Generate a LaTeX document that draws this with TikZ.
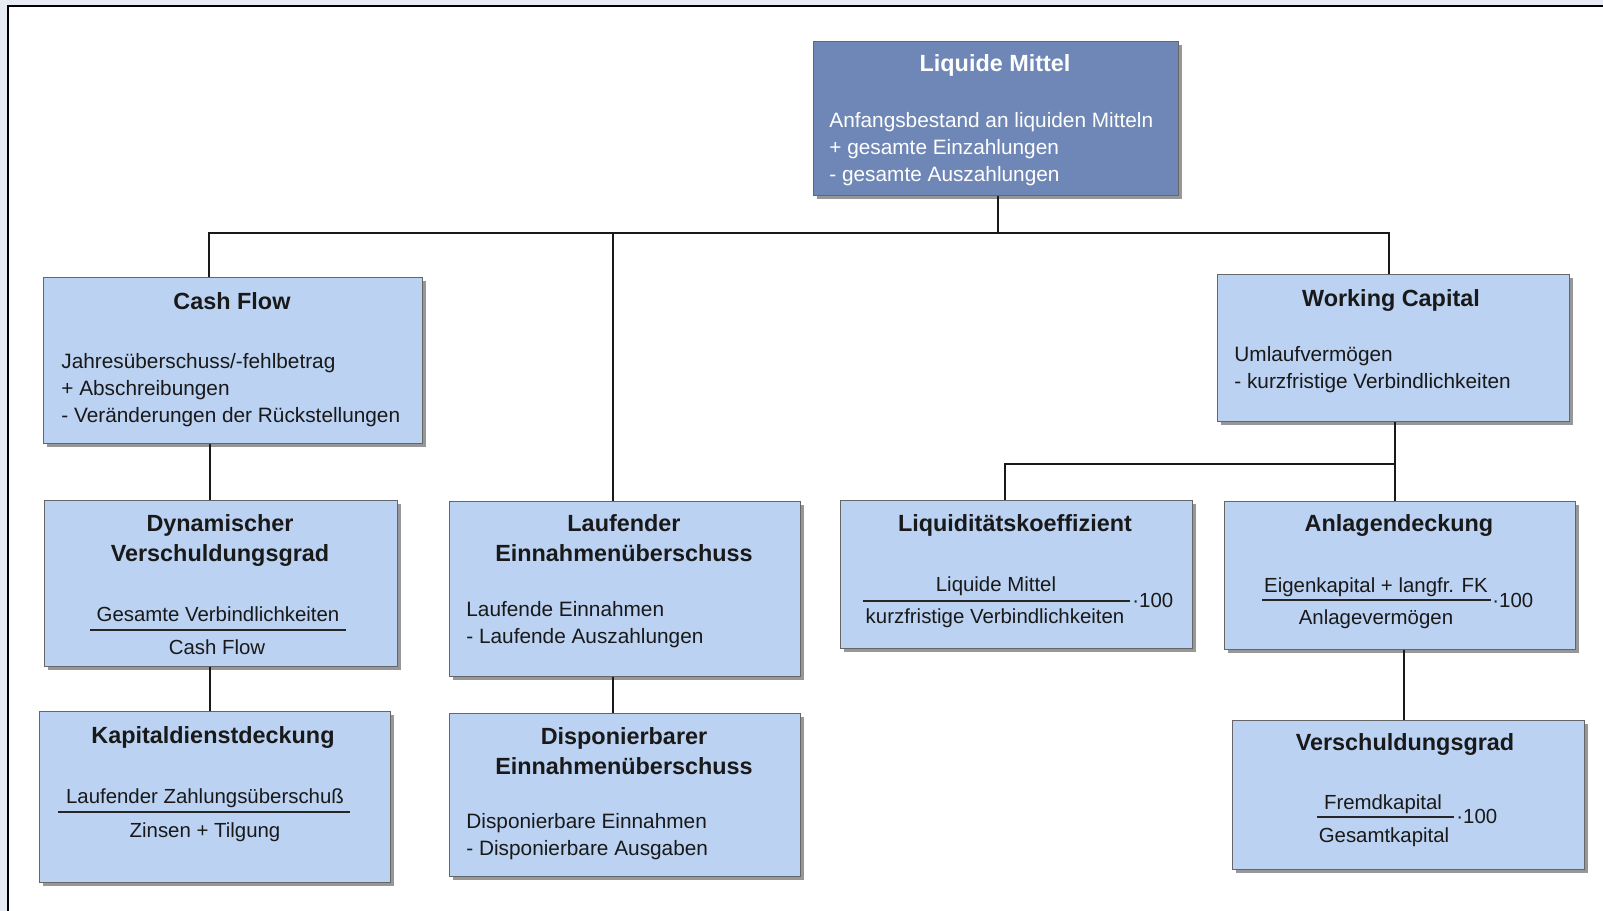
\documentclass[tikz,border=0pt]{standalone}
\usepackage{fontspec}
\setmainfont{Liberation Sans}
\usetikzlibrary{fit,shadows}

\definecolor{boxblau}{RGB}{187,210,242}
\definecolor{kopfblau}{RGB}{111,135,182}
\definecolor{randgrau}{RGB}{231,235,243}

\tikzset{
  kasten/.style={draw=black!60, line width=0.5pt, fill=boxblau, inner sep=0pt,
    drop shadow={shadow xshift=1.8pt, shadow yshift=-1.8pt, fill=black!45, opacity=0.9}},
  kopf/.style={kasten, fill=kopfblau},
  titel/.style={font=\bfseries\fontsize{11.7}{14.8}\selectfont, align=center, anchor=base, inner sep=0pt, text=black!90},
  zeilen/.style={font=\fontsize{10.4}{13.3}\selectfont, align=left, anchor=base west, inner sep=0pt, text=black!90},
  bruchtext/.style={font=\fontsize{10.2}{12}\selectfont, anchor=base, inner sep=0pt, text=black!90},
  linie/.style={line width=1.3pt, black!90},
  bruch/.style={line width=0.8pt, black!85},
}

\begin{document}
\begin{tikzpicture}[x=0.5pt, y=-0.5pt]
  \useasboundingbox (0,0) rectangle (1603,911);
  % Rahmen
  \fill[randgrau] (0,0) rectangle (1603,911);
  \fill[white] (8,6) rectangle (1603,911);
  \draw[line width=1pt] (8,911) -- (8,6) -- (1603,6);

  % Verbindungspunkte
  \coordinate (t0) at (998,233);
  \coordinate (t1) at (209,233);
  \coordinate (t2) at (613,233);
  \coordinate (t3) at (1389,233);
  \coordinate (v1) at (210,0);
  \coordinate (v3) at (1395,464);
  \coordinate (v4) at (1005,464);
  \coordinate (v5) at (1404,0);

  % Kaesten
  \node[kopf, fit={(813,41) (1178,195)}] (lm) {};
  \node[kasten, fit={(43,277) (422,443)}] (cf) {};
  \node[kasten, fit={(44,500) (397,666)}] (dv) {};
  \node[kasten, fit={(39,711) (390,882)}] (kd) {};
  \node[kasten, fit={(449,501) (800,676)}] (le) {};
  \node[kasten, fit={(449,713) (800,876)}] (de) {};
  \node[kasten, fit={(1217,274) (1569,421)}] (wc) {};
  \node[kasten, fit={(840,500) (1192,648)}] (lk) {};
  \node[kasten, fit={(1224,501) (1575,649)}] (ad) {};
  \node[kasten, fit={(1232,720) (1584,869)}] (vg) {};

  % Linien
  \draw[linie] (t0 |- lm.south) -- (t0);
  \draw[linie] (t1 |- cf.north) -- (t1) -- (t3) -- (t3 |- wc.north);
  \draw[linie] (t2) -- (t2 |- le.north);
  \draw[linie] (v1 |- cf.south) -- (v1 |- dv.north);
  \draw[linie] (v1 |- dv.south) -- (v1 |- kd.north);
  \draw[linie] (t2 |- le.south) -- (t2 |- de.north);
  \draw[linie] (v3 |- wc.south) -- (v3 |- ad.north);
  \draw[linie] (v4 |- lk.north) -- (v4) -- (v3);
  \draw[linie] (v5 |- ad.south) -- (v5 |- vg.north);

  % Liquide Mittel (mehrzeilig: Basis = letzte Zeile)
  \node[titel, text=white] (lmt) at (995,71) {Liquide Mittel};
  \node[zeilen, text=white] (lmb) at (829,181) {Anfangsbestand an liquiden Mitteln\\+ gesamte Einzahlungen\\- gesamte Auszahlungen};

  % Cash Flow
  \node[titel] (cft) at (232,309) {Cash Flow};
  \node[zeilen] (cfb) at (61,422) {Jahresüberschuss/-fehlbetrag\\+ Abschreibungen\\- Veränderungen der Rückstellungen};

  % Dynamischer Verschuldungsgrad
  \node[titel] (dvt) at (220,561) {Dynamischer\\Verschuldungsgrad};
  \node[bruchtext] (dvz) at (218,621) {Gesamte Verbindlichkeiten};
  \node[bruchtext] (dvn) at (217,654) {Cash Flow};
  \draw[bruch] (90,630) -- (346,630);

  % Kapitaldienstdeckung
  \node[titel] (kdt) at (213,743) {Kapitaldienstdeckung};
  \node[bruchtext] (kdz) at (205,803) {Laufender Zahlungsüberschuß};
  \node[bruchtext] (kdn) at (205,837) {Zinsen + Tilgung};
  \draw[bruch] (58,812) -- (350,812);

  % Laufender Einnahmenueberschuss
  \node[titel] (let) at (624,561) {Laufender\\Einnahmenüberschuss};
  \node[zeilen] (leb) at (466,643) {Laufende Einnahmen\\- Laufende Auszahlungen};

  % Disponierbarer Einnahmenueberschuss
  \node[titel] (det) at (624,774) {Disponierbarer\\Einnahmenüberschuss};
  \node[zeilen] (deb) at (466,855) {Disponierbare Einnahmen\\- Disponierbare Ausgaben};

  % Working Capital
  \node[titel] (wct) at (1391,306) {Working Capital};
  \node[zeilen] (wcb) at (1234,388) {Umlaufvermögen\\- kurzfristige Verbindlichkeiten};

  % Liquiditaetskoeffizient
  \node[titel] (lkt) at (1015,531) {Liquiditätskoeffizient};
  \node[bruchtext] (lkz) at (996,591) {Liquide Mittel};
  \node[bruchtext] (lkn) at (995,623) {kurzfristige Verbindlichkeiten};
  \draw[bruch] (863,601) -- (1130,601);
  \node[bruchtext, anchor=base west] (lkf) at (1132,607) {·100};

  % Anlagendeckung
  \node[titel] (adt) at (1399,531) {Anlagendeckung};
  \node[bruchtext] (adz) at (1376,592) {Eigenkapital + langfr. FK};
  \node[bruchtext] (adn) at (1376,624) {Anlagevermögen};
  \draw[bruch] (1262,600) -- (1491,600);
  \node[bruchtext, anchor=base west] (adf) at (1492,607) {·100};

  % Verschuldungsgrad
  \node[titel] (vgt) at (1405,750) {Verschuldungsgrad};
  \node[bruchtext] (vgz) at (1383,809) {Fremdkapital};
  \node[bruchtext] (vgn) at (1384,842) {Gesamtkapital};
  \draw[bruch] (1317,817) -- (1454,817);
  \node[bruchtext, anchor=base west] (vgf) at (1456,823) {·100};
\end{tikzpicture}
\end{document}
